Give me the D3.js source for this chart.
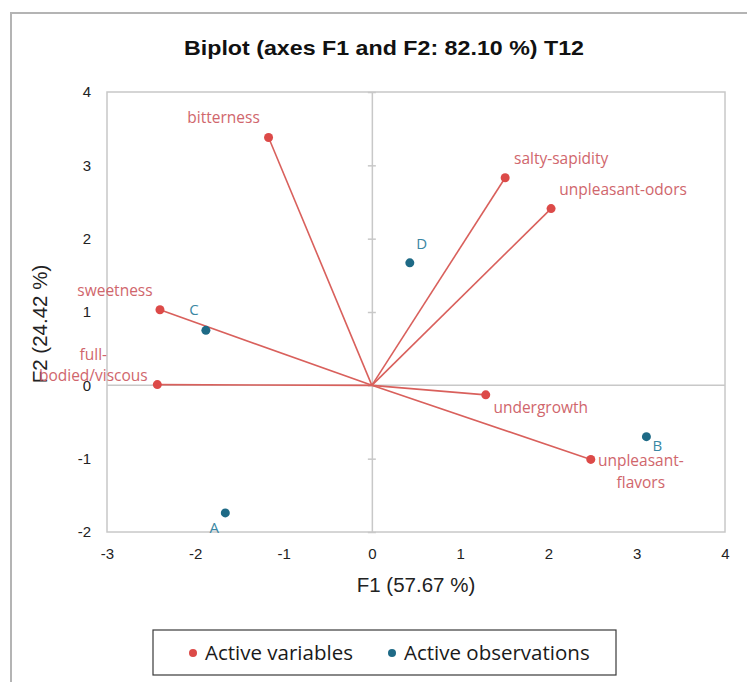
<!DOCTYPE html>
<html>
<head>
<meta charset="utf-8">
<script src="https://cdn.jsdelivr.net/npm/d3@7"></script>
<style>
  html, body { margin: 0; padding: 0; background: #fff; }
  svg { display: block; }
</style>
</head>
<body>
<svg id="chart" width="747" height="682"></svg>
<script>
// Variable loadings (arrows from the origin)
const variables = ["bitterness", "sweetness", "full-bodied/viscous", "salty-sapidity",
                   "unpleasant-odors", "undergrowth", "unpleasant-flavors"];
const varF1 = [-1.17, -2.40, -2.43, 1.51, 2.03, 1.29, 2.48];
const varF2 = [3.38, 1.03, 0.01, 2.83, 2.41, -0.13, -1.01];

// Observation scores
const observations = ["A", "B", "C", "D"];
const obsF1 = [-1.66, 3.11, -1.88, 0.43];
const obsF2 = [-1.74, -0.70, 0.75, 1.67];

// Axis ticks
const xTicks = [-3, -2, -1, 0, 1, 2, 3, 4];
const yTicks = [-2, -1, 0, 1, 2, 3, 4];

// Label text lines and placement around each marker
const varLabelLines = {
  "bitterness": ["bitterness"],
  "sweetness": ["sweetness"],
  "full-bodied/viscous": ["full-", "bodied/viscous"],
  "salty-sapidity": ["salty-sapidity"],
  "unpleasant-odors": ["unpleasant-odors"],
  "undergrowth": ["undergrowth"],
  "unpleasant-flavors": ["unpleasant-", "flavors"]
};
const varLabelOffset = {
  "bitterness": [-45, -14],
  "sweetness": [-45, -14],
  "full-bodied/viscous": [-64, -25],
  "salty-sapidity": [56, -14],
  "unpleasant-odors": [72, -14],
  "undergrowth": [55, 18],
  "unpleasant-flavors": [50, 7]
};
const obsLabelOffset = { "A": [-11, 20], "B": [11, 14], "C": [-12, -15], "D": [12, -14] };

const svg = d3.select("#chart");
const W = 747, H = 682;

const plot = { left: 107, right: 725, top: 92, bottom: 532 };

const x = d3.scaleLinear().domain([-3, 4]).range([plot.left, plot.right]);
const y = d3.scaleLinear().domain([-2, 4]).range([plot.bottom, plot.top]);

const varColor = "#dc4a48";
const varLine = "#d9605c";
const varText = "#d0666c";
const obsColor = "#1e6a86";
const obsText = "#3a87a3";
const frameGray = "#c8c8c8";

// Outer chart frame (only top and left edges fall inside the page)
svg.append("path")
  .attr("d", `M11,${H} L11,13 L${W},13`)
  .attr("fill", "none")
  .attr("stroke", "#b4b4b4")
  .attr("stroke-width", 2);

// Title
svg.append("text")
  .attr("x", 384).attr("y", 55)
  .attr("text-anchor", "middle")
  .attr("font-family", "Liberation Sans, Arial, sans-serif")
  .attr("font-weight", "bold")
  .attr("font-size", 21)
  .attr("textLength", 400)
  .attr("lengthAdjust", "spacingAndGlyphs")
  .attr("fill", "#111")
  .text("Biplot (axes F1 and F2: 82.10 %) T12");

// Plot frame
svg.append("rect")
  .attr("x", plot.left).attr("y", plot.top)
  .attr("width", plot.right - plot.left).attr("height", plot.bottom - plot.top)
  .attr("fill", "none").attr("stroke", frameGray).attr("stroke-width", 1.5);

// Axis lines through the origin
svg.append("line")
  .attr("x1", plot.left).attr("x2", plot.right)
  .attr("y1", y(0)).attr("y2", y(0))
  .attr("stroke", frameGray).attr("stroke-width", 1.5);

const yAxisG = svg.append("g").attr("transform", `translate(${x(0)},0)`);
yAxisG.call(d3.axisLeft(y).tickValues(yTicks).tickSize(4).tickSizeOuter(0).tickFormat(""));
yAxisG.selectAll(".tick line").attr("x1", 4).attr("x2", -4).attr("stroke", frameGray).attr("stroke-width", 1.5);
yAxisG.select(".domain").attr("stroke", frameGray).attr("stroke-width", 1.5);

// Tick labels along the frame
const tickFont = "Liberation Sans, Arial, sans-serif";
const fmt = d => String(d);
const yLab = svg.append("g").attr("transform", `translate(${plot.left - 16},0)`);
yLab.call(d3.axisLeft(y).tickValues(yTicks).tickSize(0).tickPadding(0).tickFormat(fmt));
yLab.select(".domain").remove();
yLab.selectAll("text").attr("font-family", tickFont).attr("font-size", 15).attr("fill", "#222");

const xLab = svg.append("g").attr("transform", `translate(0,${plot.bottom + 16})`);
xLab.call(d3.axisBottom(x).tickValues(xTicks).tickSize(0).tickPadding(0).tickFormat(fmt));
xLab.select(".domain").remove();
xLab.selectAll("text").attr("font-family", tickFont).attr("font-size", 15).attr("fill", "#222");

// Axis titles
svg.append("text")
  .attr("x", (plot.left + plot.right) / 2).attr("y", 592)
  .attr("text-anchor", "middle")
  .attr("font-family", tickFont).attr("font-size", 20.5).attr("fill", "#222")
  .text("F1 (57.67 %)");

svg.append("text")
  .attr("transform", `translate(47,${(plot.top + plot.bottom) / 2 + 12}) rotate(-90)`)
  .attr("text-anchor", "middle")
  .attr("font-family", tickFont).attr("font-size", 20.5).attr("fill", "#222")
  .text("F2 (24.42 %)");

// Variable vectors
const labelFont = "Open Sans, sans-serif";
const varData = variables.map((name, i) => ({ name, f1: varF1[i], f2: varF2[i] }));
const obsData = observations.map((name, i) => ({ name, f1: obsF1[i], f2: obsF2[i] }));

svg.append("g").selectAll("line").data(varData).join("line")
  .attr("x1", x(0)).attr("y1", y(0))
  .attr("x2", d => x(d.f1)).attr("y2", d => y(d.f2))
  .attr("stroke", varLine).attr("stroke-width", 1.6);

svg.append("g").selectAll("circle").data(varData).join("circle")
  .attr("cx", d => x(d.f1)).attr("cy", d => y(d.f2)).attr("r", 4.5)
  .attr("fill", varColor);

const vl = svg.append("g").selectAll("text").data(varData).join("text")
  .attr("x", d => x(d.f1) + varLabelOffset[d.name][0])
  .attr("y", d => y(d.f2) + varLabelOffset[d.name][1])
  .attr("text-anchor", "middle")
  .attr("font-family", labelFont).attr("font-size", 15.5).attr("fill", varText);
vl.selectAll("tspan").data(d => varLabelLines[d.name].map((t, k) => ({ t, k, d }))).join("tspan")
  .attr("x", o => x(o.d.f1) + varLabelOffset[o.d.name][0])
  .attr("dy", o => o.k === 0 ? 0 : 21.5)
  .text(o => o.t);

// Observations
svg.append("g").selectAll("circle").data(obsData).join("circle")
  .attr("cx", d => x(d.f1)).attr("cy", d => y(d.f2)).attr("r", 4.5)
  .attr("fill", obsColor);

svg.append("g").selectAll("text").data(obsData).join("text")
  .attr("x", d => x(d.f1) + obsLabelOffset[d.name][0])
  .attr("y", d => y(d.f2) + obsLabelOffset[d.name][1])
  .attr("text-anchor", "middle")
  .attr("font-family", labelFont).attr("font-size", 15).attr("fill", obsText)
  .text(d => d.name);

// Legend
const lg = svg.append("g");
lg.append("rect")
  .attr("x", 153).attr("y", 630).attr("width", 463).attr("height", 45)
  .attr("fill", "#fff").attr("stroke", "#3a3a3a").attr("stroke-width", 1.2);
const legendItems = [
  { label: "Active variables", color: varColor, cx: 193 },
  { label: "Active observations", color: obsColor, cx: 392 }
];
lg.selectAll("circle").data(legendItems).join("circle")
  .attr("cx", d => d.cx).attr("cy", 653).attr("r", 4).attr("fill", d => d.color);
lg.selectAll("text").data(legendItems).join("text")
  .attr("x", d => d.cx + 12).attr("y", 660)
  .attr("font-family", labelFont).attr("font-size", 20.5).attr("fill", "#1a1a1a")
  .text(d => d.label);
</script>
</body>
</html>
